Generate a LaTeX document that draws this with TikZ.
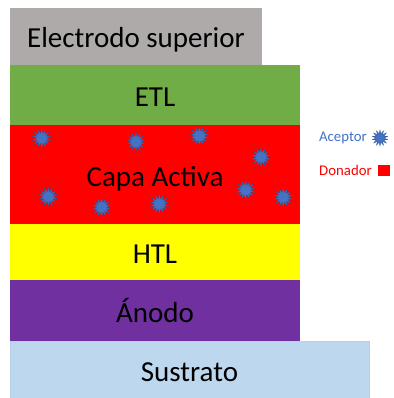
\documentclass[tikz,border=0pt]{standalone}
\usepackage{fontspec}
\setmainfont{Carlito}
\usetikzlibrary{positioning, shapes.geometric}
\definecolor{electrodogris}{HTML}{AEAAAA}
\definecolor{etlverde}{HTML}{70AD47}
\definecolor{activarojo}{HTML}{FF0000}
\definecolor{htlamarillo}{HTML}{FFFF00}
\definecolor{anodomorado}{HTML}{7030A0}
\definecolor{sustratoazul}{HTML}{BDD7EE}
\definecolor{sustratoborde}{HTML}{B4D0EA}
\definecolor{aceptorazul}{HTML}{4472C4}
\definecolor{aceptorborde}{HTML}{2F528F}

\begin{document}
\begin{tikzpicture}[
  x=1pt, y=-1pt,
  font=\fontsize{29}{35}\selectfont,
  node distance=0pt,
  capa/.style={
    inner sep=0pt, outer sep=0pt,
    minimum width=290pt,
    text height=23pt, text depth=0pt
  },
  aceptor/.style={
    star, star points=14, star point ratio=1.9,
    minimum size=19pt, inner sep=0pt,
    fill=aceptorazul, draw=aceptorborde, line width=0.3pt
  },
  leyenda/.style={font=\fontsize{14.8}{17}\selectfont, inner sep=0pt}
]
\useasboundingbox (0,0) rectangle (393,398);
% capas
\node[capa, fill=electrodogris, minimum width=252pt, minimum height=57pt, anchor=north west] (electrodo) at (10,8) {Electrodo superior};
\node[capa, fill=etlverde, minimum height=60pt, below right=of electrodo.south west] (etl) {ETL};
\node[capa, fill=activarojo, minimum height=99pt, below right=of etl.south west] (activa) {Capa Activa};
\node[capa, fill=htlamarillo, minimum height=56pt, below right=of activa.south west] (htl) {HTL};
\node[capa, fill=anodomorado, minimum height=61pt, below right=of htl.south west] (anodo) {Ánodo};
\node[capa, fill=sustratoazul, draw=sustratoborde, line width=0.3pt, minimum width=359pt, minimum height=57pt, below right=of anodo.south west] (sustrato) {Sustrato};
% aceptores
\foreach \x/\y [count=\i] in {41.7/138.3, 136/141.7, 199.3/136, 261/157.3, 48.3/196.7,
    101.7/207.3, 159.3/204, 245.7/190, 283.3/197.3}
  \node[aceptor] (acep\i) at (\x,\y) {};
% leyenda
\node[leyenda, text=aceptorazul] (aceptortxt) at (343,138) {Aceptor};
\node[aceptor, minimum size=16pt] (aceptorsim) at (380,138) {};
\node[leyenda, text=activarojo] (donadortxt) at (345.5,170) {Donador};
\node[fill=activarojo, inner sep=0pt, minimum width=12pt, minimum height=11pt] (donadorsim) at (384,170) {};
\end{tikzpicture}
\end{document}
